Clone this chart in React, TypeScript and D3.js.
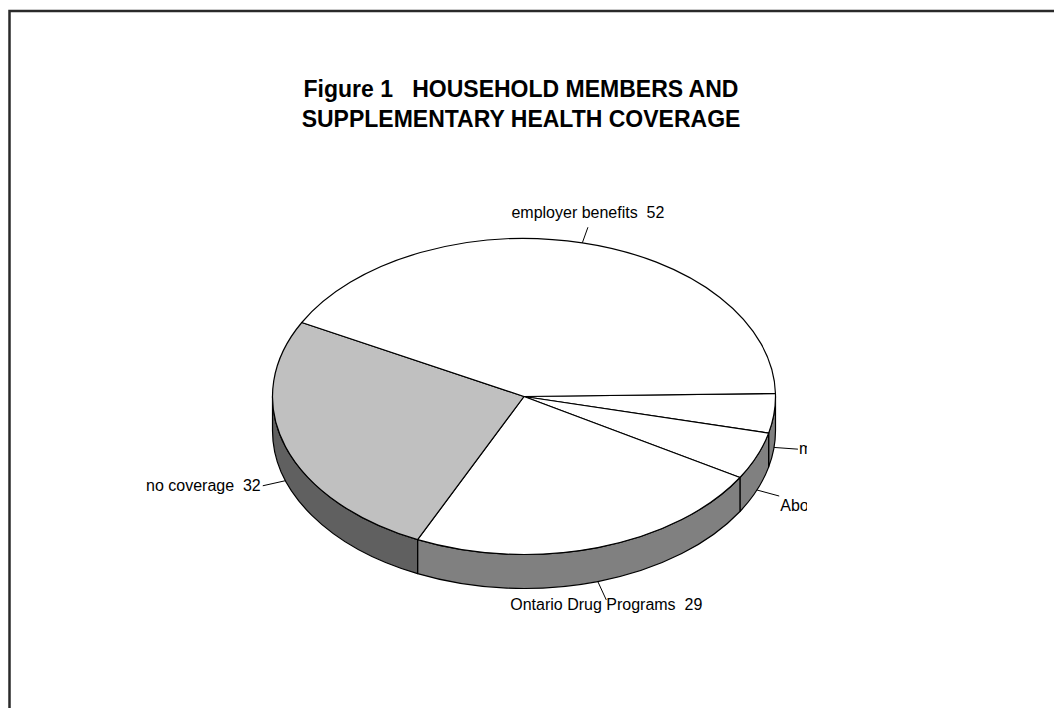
import React from "react";
import * as d3 from "d3";

const categories = ["multiple plans", "Aboriginal", "Ontario Drug Programs", "no coverage", "employer benefits"];
const values = [5, 6, 29, 32, 52];
const topFills = ["#ffffff", "#ffffff", "#ffffff", "#c0c0c0", "#ffffff"];
const sideFills = ["#808080", "#808080", "#808080", "#606060", "#808080"];
const titleLines = ["Figure 1   HOUSEHOLD MEMBERS AND", "SUPPLEMENTARY HEALTH COVERAGE"];

const W = 1054;
const H = 708;
const cx = 524;
const cy = 396.5;
const rx = 251.5;
const ry = 158;
const depth = 34;
const startDeg = 88.9;
const font = "'Liberation Sans', Arial, Helvetica, sans-serif";

function pt(theta: number, dy = 0): [number, number] {
  return [cx + rx * Math.cos(theta), cy + ry * Math.sin(theta) + dy];
}

export default function App() {
  const pie = d3
    .pie<number>()
    .sort(null)
    .value((d) => d)
    .startAngle((startDeg * Math.PI) / 180)
    .endAngle((startDeg * Math.PI) / 180 + 2 * Math.PI);
  const arcs = pie(values);

  const slices = arcs.map((a, i) => {
    const t0 = a.startAngle - Math.PI / 2;
    const t1 = a.endAngle - Math.PI / 2;
    const p0 = pt(t0);
    const p1 = pt(t1);
    const large = t1 - t0 > Math.PI ? 1 : 0;
    const top = `M${cx},${cy}L${p0[0]},${p0[1]}A${rx},${ry} 0 ${large} 1 ${p1[0]},${p1[1]}Z`;
    let side: string | null = null;
    const s = Math.max(t0, 0);
    const e = Math.min(t1, Math.PI);
    if (e > s) {
      const a0 = pt(s);
      const a1 = pt(e);
      const b1 = pt(e, depth);
      const b0 = pt(s, depth);
      side = `M${a0[0]},${a0[1]}A${rx},${ry} 0 0 1 ${a1[0]},${a1[1]}L${b1[0]},${b1[1]}A${rx},${ry} 0 0 0 ${b0[0]},${b0[1]}Z`;
    }
    const mid = (t0 + t1) / 2;
    const c = Math.cos(mid);
    const sn = Math.sin(mid);
    const front = sn > 0;
    const start = pt(mid, front ? depth : 0);
    const bottom = sn > 0.7;
    const k = bottom ? 1.2 : 1;
    const end: [number, number] = [start[0] + 24 * c * k, start[1] + 16 * sn * k];
    let anchor = "middle";
    let tx = end[0];
    let ty = end[1];
    if (c > 0.5) {
      anchor = "start";
      tx = end[0] + 1;
      ty = end[1] + (sn > 0.3 ? 15 : 5);
    } else if (c < -0.5) {
      anchor = "end";
      tx = end[0] - 2;
      ty = end[1] + 5;
    } else if (sn < 0) {
      ty = end[1] - 9;
    } else {
      ty = end[1] + 10;
    }
    return { i, top, side, start, end, anchor, tx, ty, label: `${categories[i]}  ${values[i]}` };
  });

  return (
    <svg
      width={W}
      height={H}
      style={{ position: "absolute", left: 0, top: 0, background: "#fff" }}
    >
      <defs>
        <clipPath id="plotClip">
          <rect x={0} y={0} width={807} height={H} />
        </clipPath>
      </defs>
      <path d={`M9.5,${H}V11H${W}`} fill="none" stroke="#2a2a2a" strokeWidth={2.5} />
      <g fontFamily={font} fontWeight="bold" fontSize={23} textAnchor="middle" fill="#000">
        <text x={521} y={97} style={{ whiteSpace: "pre" }}>{titleLines[0]}</text>
        <text x={521} y={127} style={{ whiteSpace: "pre" }}>{titleLines[1]}</text>
      </g>
      <g clipPath="url(#plotClip)">
        {slices.map((s) =>
          s.side ? (
            <path key={`side${s.i}`} d={s.side} fill={sideFills[s.i]} stroke="#000" strokeWidth={1.2} strokeLinejoin="round" />
          ) : null
        )}
        {slices.map((s) => (
          <path key={`top${s.i}`} d={s.top} fill={topFills[s.i]} stroke="#000" strokeWidth={1.2} strokeLinejoin="round" />
        ))}
        {slices.map((s) => (
          <g key={`lab${s.i}`}>
            <line x1={s.start[0]} y1={s.start[1]} x2={s.end[0]} y2={s.end[1]} stroke="#000" strokeWidth={1} />
            <text
              x={s.tx}
              y={s.ty}
              textAnchor={s.anchor}
              fontFamily={font}
              fontSize={16}
              fill="#000"
              style={{ whiteSpace: "pre" }}
            >
              {s.label}
            </text>
          </g>
        ))}
      </g>
    </svg>
  );
}
